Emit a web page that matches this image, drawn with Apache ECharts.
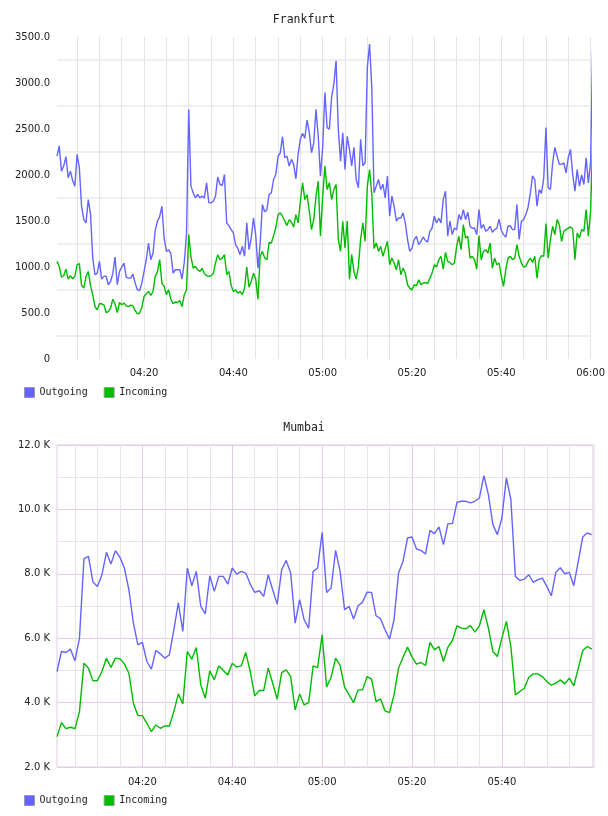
<!DOCTYPE html>
<html>
<head>
<meta charset="utf-8">
<script src="https://cdn.jsdelivr.net/npm/echarts@6/dist/echarts.min.js"></script>
<style>
html,body{margin:0;padding:0;background:#fff;}
#chart{width:608px;height:816px;}
</style>
</head>
<body>
<div id="chart"></div>
<script>
// ---- Frankfurt: 30-second samples, minutes after 04:00, starting 04:00:30 ----
const frankfurtStart = 0.5;
const frankfurtStep = 0.5;
const frankfurtOutgoing = [
  2206,2315,2042,2097,2200,1970,2042,1940,1879,2224,
  2080,1661,1515,1479,1733,1580,1100,916,934,1061,
  868,898,900,807,843,930,1108,807,952,1000,
  1043,890,879,879,923,825,752,745,825,952,
  1079,1261,1079,1150,1400,1497,1550,1661,1310,1170,
  1188,1145,934,970,970,970,868,1050,1350,2715,
  1879,1806,1752,1788,1752,1770,1752,1915,1700,1697,
  1715,1770,1980,1897,1886,2006,1479,1450,1406,1370,
  1243,1200,1134,1225,1116,1480,1188,1315,1533,1350,
  988,1261,1679,1600,1620,1788,1806,1951,2006,2200,
  2240,2417,2188,2206,2097,2170,2115,1959,2224,2388,
  2453,2400,2598,2460,2242,2350,2715,2424,1988,2300,
  2896,2515,2497,2850,2987,3241,2497,2151,2460,2060,
  2420,2279,2100,2300,1951,1861,2388,2100,2133,3169,
  3423,2950,1806,1879,1951,1842,1900,1752,1988,1552,
  1770,1661,1500,1533,1533,1588,1480,1300,1170,1206,
  1297,1334,1243,1279,1326,1290,1270,1388,1424,1552,
  1479,1530,1479,1733,1824,1334,1500,1352,1424,1406,
  1570,1515,1624,1515,1595,1443,1420,1424,1352,1624,
  1420,1461,1388,1406,1443,1377,1406,1420,1520,1400,
  1352,1326,1443,1450,1406,1406,1679,1300,1497,1515,
  1570,1650,1800,1990,1951,1661,1842,1800,1960,2515,
  1861,1842,2133,2300,2206,2115,2115,2133,2024,2188,
  2279,2000,1824,2060,1879,2000,1897,2188,1915,2133,
  3478
];
const frankfurtIncoming = [
  1061,1007,890,905,977,868,905,870,898,1025,
  1036,800,770,898,952,800,700,570,534,600,
  600,589,505,516,552,650,600,505,614,589,
  607,578,570,585,578,525,490,500,560,680,
  710,734,690,734,898,950,1080,820,789,698,
  752,650,600,620,614,636,570,698,750,1352,
  1116,988,1007,970,952,985,930,905,898,905,
  930,1043,1134,1079,1097,1134,916,952,800,734,
  752,716,734,700,770,1000,781,843,934,870,
  650,1116,1170,1100,1079,1268,1261,1341,1424,1570,
  1588,1552,1500,1450,1515,1486,1435,1570,1479,1715,
  1915,1733,1788,1606,1406,1515,1770,1933,1334,1770,
  2097,1842,1915,1733,1842,1897,1297,1170,1497,1206,
  1500,868,1134,950,868,1007,1300,1479,1279,1879,
  2060,1788,1200,1261,1170,1225,1116,1200,1279,1025,
  1097,1043,970,1079,916,988,934,807,770,752,
  807,796,861,807,825,832,818,879,934,1025,
  1000,1079,1116,977,1159,1061,1050,1025,1043,1225,
  1334,1188,1461,1315,1334,1097,1116,1079,977,1341,
  1079,1170,1188,1152,1261,988,1097,1025,1043,900,
  789,970,1097,1116,1079,1097,1243,1116,1043,1000,
  1007,1061,1097,1050,1116,879,1079,1123,1116,1472,
  1097,1297,1443,1352,1515,1461,1279,1388,1406,1424,
  1435,1413,1079,1370,1315,1406,1388,1624,1334,1606,
  2406
];

// ---- Mumbai: 1-minute samples, minutes after 04:00, starting 04:01 ----
const mumbaiStart = 1;
const mumbaiStep = 1;
const mumbaiOutgoing = [
  4965,5587,5556,5660,5297,6002,8469,8542,7743,7608,
  7971,8666,8303,8718,8511,8179,7505,6468,5794,5867,
  5276,5037,5618,5514,5380,5483,6261,7100,6209,8179,
  7629,8075,6987,6758,7940,7453,7920,7920,7681,8179,
  7992,8075,8023,7681,7422,7474,7297,7971,7505,7059,
  8127,8417,8023,6468,7200,6572,6313,8075,8179,9288,
  7422,7557,8728,8075,6883,6987,6593,7007,7121,7432,
  7422,6696,6600,6261,5971,6572,8023,8386,9112,9143,
  8770,8728,8614,9350,9247,9454,8904,9558,9558,10221,
  10252,10252,10200,10252,10356,11051,10460,9527,9216,9734,
  10978,10304,7920,7795,7837,7971,7733,7816,7868,7608,
  7318,8044,8189,8002,8044,7629,8386,9143,9268,9216
];
const mumbaiIncoming = [
  2943,3379,3192,3234,3192,3721,5224,5069,4675,4685,
  4965,5380,5089,5380,5359,5203,4913,3980,3597,3597,
  3358,3099,3306,3203,3275,3275,3721,4270,3959,5587,
  5349,5711,4550,4136,4986,4706,5141,4996,4861,5224,
  5100,5141,5556,4965,4208,4374,4374,5069,4602,4105,
  4934,5017,4809,3773,4270,3928,4001,5141,5089,6105,
  4488,4789,5380,5152,4478,4239,4001,4395,4395,4809,
  4727,4032,4115,3742,3690,4239,5069,5411,5722,5421,
  5193,5245,5152,5867,5639,5742,5276,5722,5929,6385,
  6313,6292,6396,6188,6385,6883,6313,5587,5431,6002,
  6520,5742,4239,4343,4447,4789,4892,4892,4809,4654,
  4540,4602,4706,4581,4758,4519,5069,5618,5742,5659
];

// tick labels / grid positions (minutes after 04:00)
const gridMinutes = [5,10,15,20,25,30,35,40,45,50,55,60,65,70,75,80,85,90,95,100,105,110,115,120];
const frankfurtLabelMinutes = [20,40,60,80,100,120];
const mumbaiLabelMinutes = [20,40,60,80,100];
const mumbaiMajorMinutes = [20,40,60,80,100];
const seriesNames = ['Outgoing','Incoming'];

const BLUE = '#6464ff';
const GREEN = '#00bb00';
const PINK = '#e4cce6';
const LABEL_FONT = 'DejaVu Sans';
const MONO = 'DejaVu Sans Mono';

function toPairs(start, step, arr){ return arr.map((v,i)=>[start+i*step, v]); }
function fmtTime(v){
  const h = 4 + Math.floor(v/60), m = Math.round(v % 60);
  return String(h).padStart(2,'0') + ':' + String(m).padStart(2,'0');
}
const axisLabelBase = {fontFamily: LABEL_FONT, fontSize: 10, color: '#222'};

const chart = echarts.init(document.getElementById('chart'), null, {renderer:'canvas'});
const legendBase = {
  left: 24, orient: 'horizontal', padding: 0, itemGap: 16,
  itemWidth: 10, itemHeight: 10, icon: 'rect',
  itemStyle: {borderColor: '#999', borderWidth: 1},
  textStyle: {fontFamily: MONO, fontSize: 10, color: '#222'},
  data: seriesNames, selectedMode: false
};
const titleBase = {left: 'center', padding: 0, textStyle: {fontFamily: MONO, fontSize: 11.5, fontWeight: 'normal', color: '#222'}};

chart.setOption({
  animation: false,
  backgroundColor: '#ffffff',
  title: [
    Object.assign({text: 'Frankfurt', top: 14}, titleBase),
    Object.assign({text: 'Mumbai', top: 422}, titleBase)
  ],
  legend: [
    Object.assign({top: 387}, legendBase),
    Object.assign({top: 795}, legendBase)
  ],
  grid: [
    {left: 57, right: 16, top: 37, height: 322},
    {left: 57, right: 14, top: 445, height: 322, show: true, borderColor: PINK, borderWidth: 1, backgroundColor: 'transparent'}
  ],
  xAxis: [
    {gridIndex: 0, type: 'value', min: frankfurtStart, max: 120,
     axisLine: {show: false}, axisTick: {show: false, customValues: gridMinutes},
     axisLabel: Object.assign({customValues: frankfurtLabelMinutes, formatter: fmtTime, margin: 9, showMaxLabel: true}, axisLabelBase),
     splitLine: {show: true, lineStyle: {color: '#e4e4e4', width: 1}}},
    {gridIndex: 1, type: 'value', min: mumbaiStart, max: 120.5,
     axisLine: {show: false}, axisTick: {show: false, customValues: gridMinutes},
     axisLabel: Object.assign({customValues: mumbaiLabelMinutes, formatter: fmtTime, margin: 10}, axisLabelBase),
     splitLine: {show: true, lineStyle: {color: '#e6e6e6', width: 1}}},
    {gridIndex: 1, type: 'value', min: mumbaiStart, max: 120.5, position: 'bottom',
     axisLine: {show: false}, axisTick: {show: false, customValues: mumbaiMajorMinutes},
     axisLabel: {show: false},
     splitLine: {show: true, lineStyle: {color: PINK, width: 1}}}
  ],
  yAxis: [
    {gridIndex: 0, type: 'value', min: 0, max: 3500, interval: 500,
     axisLine: {show: false}, axisTick: {show: false},
     axisLabel: Object.assign({margin: 7, formatter: v => v === 0 ? '0' : v.toFixed(1)}, axisLabelBase),
     splitLine: {show: false},
     minorTick: {show: false, splitNumber: 2},
     minorSplitLine: {show: true, lineStyle: {color: '#efefef', width: 2}}},
    {gridIndex: 1, type: 'value', min: 2000, max: 12000, interval: 2000,
     axisLine: {show: false}, axisTick: {show: false},
     axisLabel: Object.assign({margin: 7, formatter: v => (v/1000).toFixed(1) + ' K'}, axisLabelBase),
     splitLine: {show: true, lineStyle: {color: PINK, width: 1}},
     minorTick: {show: false, splitNumber: 2},
     minorSplitLine: {show: true, lineStyle: {color: '#e6e6e6', width: 1}}}
  ],
  series: [
    {name: 'Outgoing', type: 'line', xAxisIndex: 0, yAxisIndex: 0, showSymbol: false, symbol: 'none',
     data: toPairs(frankfurtStart, frankfurtStep, frankfurtOutgoing),
     lineStyle: {color: BLUE, width: 1.4}, itemStyle: {color: BLUE}},
    {name: 'Incoming', type: 'line', xAxisIndex: 0, yAxisIndex: 0, showSymbol: false, symbol: 'none',
     data: toPairs(frankfurtStart, frankfurtStep, frankfurtIncoming),
     lineStyle: {color: GREEN, width: 1.4}, itemStyle: {color: GREEN}},
    {name: 'Outgoing', type: 'line', xAxisIndex: 1, yAxisIndex: 1, showSymbol: false, symbol: 'none',
     data: toPairs(mumbaiStart, mumbaiStep, mumbaiOutgoing),
     lineStyle: {color: BLUE, width: 1.4}, itemStyle: {color: BLUE}},
    {name: 'Incoming', type: 'line', xAxisIndex: 1, yAxisIndex: 1, showSymbol: false, symbol: 'none',
     data: toPairs(mumbaiStart, mumbaiStep, mumbaiIncoming),
     lineStyle: {color: GREEN, width: 1.4}, itemStyle: {color: GREEN}}
  ]
});
</script>
</body>
</html>
